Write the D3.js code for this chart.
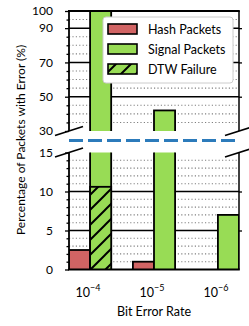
<!DOCTYPE html>
<html>
<head>
<meta charset="utf-8">
<script src="https://cdnjs.cloudflare.com/ajax/libs/d3/7.8.5/d3.min.js"></script>
<style>
  body { margin: 0; background: white; }
  text { font-family: Lato, "Open Sans", sans-serif; fill: #000; }
  .tick line { stroke: #000; stroke-width: 1.3; }
  .tick text { font-size: 12px; }
</style>
</head>
<body>
<svg id="chart" width="249" height="326"></svg>
<script>
// data
let exponents = [-4, -5, -6];
let categories = ["1e-4", "1e-5", "1e-6"];
let hashPackets = [2.5, 1.0, 0];
let signalPackets = [100, 42, 7];
let dtwFailure = [10.6, 0, 0];

let topMajor = [30, 50, 70, 90, 100];
let topMinor = [35, 40, 45, 55, 60, 65, 75, 80, 85, 95];
let botMajor = [0, 5, 10, 15];
let botMinor = [1, 2, 3, 4, 6, 7, 8, 9, 11, 12, 13, 14];

let legendNames = ["Hash Packets", "Signal Packets", "DTW Failure"];

let hashColor = "#d16464";
let signalColor = "#98dc55";

let svg = d3.select("#chart");
let left = 69, right = 239;

let x = d3.scaleBand().domain(categories).range([left, right]).paddingInner(0.34).paddingOuter(0);
let xSub = d3.scaleBand().domain(["hash", "signal"]).range([0, x.bandwidth()]);

let yTop = d3.scaleLinear().domain([30, 100]).range([131, 11]);
let yBot = d3.scaleLinear().domain([0, 15]).range([269.5, 152.5]);

// hatch pattern for DTW failure
let defs = svg.append("defs");
let pat = defs.append("pattern")
    .attr("id", "hatch")
    .attr("patternUnits", "userSpaceOnUse")
    .attr("width", 15).attr("height", 15);
pat.append("rect").attr("width", 15).attr("height", 15).attr("fill", signalColor);
pat.append("path")
    .attr("d", "M-4,4 L4,-4 M0,15 L15,0 M11,19 L19,11")
    .attr("stroke", "#000").attr("stroke-width", 2);

function panel(name, y, major, minor, lo, hi) {
    let g = svg.append("g");
    defs.append("clipPath").attr("id", "clip-" + name)
        .append("rect")
        .attr("x", left).attr("y", y(hi))
        .attr("width", right - left).attr("height", y(lo) - y(hi));
    let inner = g.append("g").attr("clip-path", `url(#clip-${name})`);

    // dotted minor grid
    inner.selectAll(".minor").data(minor).join("line")
        .attr("x1", left).attr("x2", right)
        .attr("y1", d => y(d)).attr("y2", d => y(d))
        .attr("stroke", "#808080").attr("stroke-width", 1.1)
        .attr("stroke-dasharray", "1.2,2.2");
    // solid major grid
    inner.selectAll(".major").data(major.filter(d => d > lo && d < hi)).join("line")
        .attr("x1", left).attr("x2", right)
        .attr("y1", d => y(d)).attr("y2", d => y(d))
        .attr("stroke", "#000").attr("stroke-width", 1.5);

    // bars
    let bars = [];
    categories.forEach((c, i) => {
        bars.push({ c: c, k: "hash", v: hashPackets[i], fill: hashColor });
        bars.push({ c: c, k: "signal", v: signalPackets[i], fill: signalColor });
        if (dtwFailure[i] > 0) bars.push({ c: c, k: "signal", v: dtwFailure[i], fill: "url(#hatch)" });
    });
    inner.selectAll(".bar").data(bars.filter(d => d.v > lo)).join("rect")
        .attr("x", d => x(d.c) + xSub(d.k))
        .attr("width", xSub.bandwidth())
        .attr("y", d => y(Math.min(d.v, hi + 1)))
        .attr("height", d => y(lo) - y(Math.min(d.v, hi + 1)) + 3)
        .attr("fill", d => d.fill)
        .attr("stroke", "#000").attr("stroke-width", 1.8);

    // ticks
    let ax = g.append("g").attr("transform", `translate(${left},0)`)
        .call(d3.axisLeft(y).tickValues(major).tickSize(4).tickPadding(12));
    ax.select(".domain").remove();
    let axm = g.append("g").attr("transform", `translate(${left},0)`)
        .call(d3.axisLeft(y).tickValues(minor).tickSize(2.5).tickFormat(""));
    axm.select(".domain").remove();
    let axr = g.append("g").attr("transform", `translate(${right},0)`)
        .call(d3.axisRight(y).tickValues(major.filter(d => d > lo && d < hi)).tickSize(3).tickFormat(""));
    axr.select(".domain").remove();

    // spines
    g.append("line").attr("x1", left).attr("x2", left).attr("y1", y(hi)).attr("y2", y(lo))
        .attr("stroke", "#000").attr("stroke-width", 1.8);
    g.append("line").attr("x1", right).attr("x2", right).attr("y1", y(hi)).attr("y2", y(lo))
        .attr("stroke", "#000").attr("stroke-width", 1.5);
    return g;
}

panel("top", yTop, topMajor, topMinor, 30, 100);
panel("bot", yBot, botMajor, botMinor, 0, 15);

// top and bottom frame lines
svg.append("line").attr("x1", left - 1).attr("x2", right + 0.8).attr("y1", yTop(100)).attr("y2", yTop(100))
    .attr("stroke", "#000").attr("stroke-width", 1.8);
svg.append("line").attr("x1", left - 1).attr("x2", right + 0.8).attr("y1", yBot(0)).attr("y2", yBot(0))
    .attr("stroke", "#000").attr("stroke-width", 2);

// break marks
[[left, yTop(30)], [left, yBot(15)], [right, yTop(30)], [right, yBot(15)]].forEach(p => {
    svg.append("line")
        .attr("x1", p[0] - 14).attr("y1", p[1] + 4.5)
        .attr("x2", p[0] + 14).attr("y2", p[1] - 4.5)
        .attr("stroke", "#000").attr("stroke-width", 1.6);
});
svg.append("line")
    .attr("x1", left).attr("x2", right - 1)
    .attr("y1", 140.5).attr("y2", 140.5)
    .attr("stroke", "#2c7bbb").attr("stroke-width", 3)
    .attr("stroke-dasharray", "14,5");

// x labels
let xl = svg.append("g").selectAll("text").data(categories).join("text")
    .attr("x", d => x(d) + x.bandwidth() / 2 - 2)
    .attr("y", 297)
    .attr("text-anchor", "middle")
    .style("font-size", "12.5px");
xl.append("tspan").text("10");
xl.append("tspan").attr("dy", -6.5).style("font-size", "9px").text((d, i) => "\u2212" + Math.abs(exponents[i]));

svg.append("text").attr("x", 154).attr("y", 316).attr("text-anchor", "middle")
    .style("font-size", "12.5px").text("Bit Error Rate");
svg.append("text")
    .attr("transform", "translate(25,140) rotate(-90)")
    .attr("text-anchor", "middle")
    .style("font-size", "12px")
    .text("Percentage of Packets with Error (%)");

// legend
let lg = svg.append("g");
lg.append("rect").attr("x", 103).attr("y", 17).attr("width", 130).attr("height", 66).attr("rx", 3)
    .attr("fill", "#fff").attr("stroke", "#ccc").attr("stroke-width", 1);
let fills = [hashColor, signalColor, "url(#hatch)"];
legendNames.forEach((n, i) => {
    lg.append("rect").attr("x", 108).attr("y", 24 + i * 20).attr("width", 29).attr("height", 10)
        .attr("fill", fills[i]).attr("stroke", "#000").attr("stroke-width", 1.6);
    lg.append("text").attr("x", 148).attr("y", 33.5 + i * 20).style("font-size", "12.5px").text(n);
});
</script>
</body>
</html>
